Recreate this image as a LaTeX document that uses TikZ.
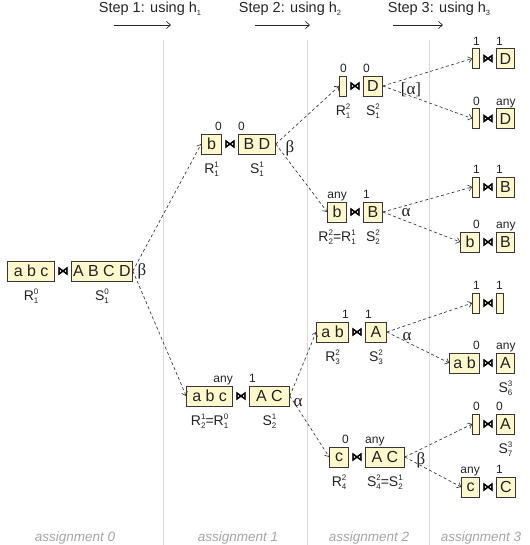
\documentclass[tikz,border=0pt]{standalone}
\usepackage{fontspec}
\setmainfont{Liberation Sans}
\newfontfamily\symfont[FakeBold=4.5]{DejaVu Sans}
\newfontfamily\grkfont{Liberation Serif}
\usetikzlibrary{arrows.meta}
\definecolor{boxfill}{RGB}{255,248,204}
\definecolor{boxline}{RGB}{55,55,55}
\definecolor{sepgray}{RGB}{218,218,218}
\definecolor{asgray}{RGB}{165,165,165}
\definecolor{inkgray}{RGB}{35,35,35}
\newcommand\lblRS[3]{#1\rlap{\raisebox{5.5pt}{\fontsize{8}{8}\selectfont #2}}\raisebox{-3pt}{\fontsize{8}{8}\selectfont #3}}
\newcommand\hsub[1]{\raisebox{-2.5pt}{\fontsize{7.5}{7.5}\selectfont #1}}
% name, bowtie x, y, R text, R width, S text, S width
\newcommand\joinrow[7]{%
 \node[bow] (#1j) at (#2,#3) {⋈};
 \node[box, minimum width=#5pt, anchor=east] (#1R) at (#2-8,#3) {#4};
 \node[box, minimum width=#7pt, anchor=west] (#1S) at (#2+8,#3) {#6};
}
\newcommand\annrow[3]{%
 \node[ann, anchor=base east] (#1ra) at ([yshift=3pt]#1R.north east) {#2};
 \node[ann, anchor=base west] (#1sa) at ([yshift=3pt]#1S.north west) {#3};
}
\tikzset{
 box/.style={draw=boxline, fill=boxfill, line width=0.8pt, minimum height=20pt, inner xsep=1pt, inner ysep=0pt, font=\fontsize{16}{16}\selectfont, text=inkgray},
 ann/.style={font=\fontsize{12}{12}\selectfont, inner sep=0pt, text=inkgray},
 lbl/.style={font=\fontsize{14}{14}\selectfont, inner sep=0pt, text=inkgray},
 bow/.style={font=\symfont\fontsize{11}{11}\selectfont, inner sep=0pt, text=black},
 dar/.style={dash pattern=on 3pt off 2.5pt, -{Straight Barb[length=3.5pt,width=6pt]}, line width=0.65pt, draw=black!80},
 elbl/.style={font=\grkfont\fontsize{17}{17}\selectfont, text=inkgray, inner sep=0pt},
 sepline/.style={draw=sepgray, line width=0.8pt},
 hdr/.style={font=\fontsize{14.5}{14.5}\selectfont, inner sep=0pt, text=black!85},
 harrow/.style={-{Straight Barb[length=4pt,width=7pt]}, line width=0.7pt, draw=black!85},
 asg/.style={font=\itshape\fontsize{13.5}{13.5}\selectfont, text=asgray, inner sep=0pt},
}
\begin{document}
\begin{tikzpicture}[x=1pt,y=-1pt]
\useasboundingbox (0,0) rectangle (529,545);
% separators
\draw[sepline] (163,40) -- (163,545);
\draw[sepline] (307,40) -- (307,545);
\draw[sepline] (429,40) -- (429,545);
% header
\node[hdr] (st1) at (150,9) {Step 1: using h\hsub{1}};
\node[hdr] (st2) at (290,9) {Step 2: using h\hsub{2}};
\node[hdr] (st3) at (439,9) {Step 3: using h\hsub{3}};
\coordinate (a1s) at (114,25); \coordinate (a1e) at (171,25);
\coordinate (a2s) at (255,25); \coordinate (a2e) at (310,25);
\coordinate (a3s) at (393,25); \coordinate (a3e) at (443,25);
\draw[harrow] (a1s) -- (a1e);
\draw[harrow] (a2s) -- (a2e);
\draw[harrow] (a3s) -- (a3e);
% footer
\node[asg] (as0) at (75,538) {assignment 0};
\node[asg] (as1) at (238,538) {assignment 1};
\node[asg] (as2) at (369,538) {assignment 2};
\node[asg] (as3) at (481,538) {assignment 3};
% root
\joinrow{root}{63}{271}{a b c}{47}{A B C D}{61}
% level 1
\joinrow{La}{230}{144}{b}{20}{B D}{37}
\annrow{La}{0}{0}
\joinrow{Lb}{241}{396}{a b c}{46}{A C}{40}
\annrow{Lb}{any}{1}
% level 2
\joinrow{Ma}{355}{86}{}{7}{D}{19}
\annrow{Ma}{0}{0}
\joinrow{Mb}{355}{212}{b}{19}{B}{19}
\annrow{Mb}{any}{1}
\joinrow{Mc}{357}{332}{a b}{32}{A}{21}
\annrow{Mc}{1}{1}
\joinrow{Md}{357}{457}{c}{19}{A C}{39}
\annrow{Md}{0}{any}
% level 3
\joinrow{Na}{488}{58.5}{}{7}{D}{18}
\annrow{Na}{1}{1}
\joinrow{Nb}{488}{118.5}{}{7}{D}{18}
\annrow{Nb}{0}{any}
\joinrow{Nc}{488}{187}{}{7}{B}{18}
\annrow{Nc}{1}{1}
\joinrow{Nd}{488}{242}{b}{19}{B}{18}
\annrow{Nd}{0}{any}
\joinrow{Ne}{488}{303}{}{7}{}{7}
\annrow{Ne}{1}{1}
\joinrow{Nf}{488}{363}{a b}{30}{A}{18}
\annrow{Nf}{0}{any}
\joinrow{Ng}{488}{424}{}{7}{A}{18}
\annrow{Ng}{0}{0}
\joinrow{Nh}{488}{487}{c}{18}{C}{19}
\annrow{Nh}{any}{1}
% labels below
\node[lbl, anchor=base] (rootRl) at ([yshift=-19pt]rootR.south) {\lblRS{R}{0}{1}};
\node[lbl, anchor=base] (rootSl) at ([yshift=-19pt]rootS.south) {\lblRS{S}{0}{1}};
\node[lbl, anchor=base] (LaRl) at ([yshift=-19pt]LaR.south) {\lblRS{R}{1}{1}};
\node[lbl, anchor=base] (LaSl) at ([yshift=-19pt]LaS.south) {\lblRS{S}{1}{1}};
\node[lbl, anchor=base] (LbRl) at ([yshift=-19pt]LbR.south) {\lblRS{R}{1}{2}=\lblRS{R}{0}{1}};
\node[lbl, anchor=base] (LbSl) at ([yshift=-19pt]LbS.south) {\lblRS{S}{1}{2}};
\node[lbl, anchor=base] (MaRl) at ([yshift=-19pt]MaR.south) {\lblRS{R}{2}{1}};
\node[lbl, anchor=base] (MaSl) at ([yshift=-19pt]MaS.south) {\lblRS{S}{2}{1}};
\node[lbl, anchor=base] (MbRl) at ([yshift=-19pt]MbR.south) {\lblRS{R}{2}{2}=\lblRS{R}{1}{1}};
\node[lbl, anchor=base] (MbSl) at ([yshift=-19pt]MbS.south) {\lblRS{S}{2}{2}};
\node[lbl, anchor=base] (McRl) at ([yshift=-19pt]McR.south) {\lblRS{R}{2}{3}};
\node[lbl, anchor=base] (McSl) at ([yshift=-19pt]McS.south) {\lblRS{S}{2}{3}};
\node[lbl, anchor=base] (MdRl) at ([yshift=-19pt]MdR.south) {\lblRS{R}{2}{4}};
\node[lbl, anchor=base] (MdSl) at ([yshift=-19pt]MdS.south) {\lblRS{S}{2}{4}=\lblRS{S}{1}{2}};
\node[lbl, anchor=base] (NfSl) at ([yshift=-19pt]NfS.south) {\lblRS{S}{3}{6}};
\node[lbl, anchor=base] (NgSl) at ([yshift=-19pt]NgS.south) {\lblRS{S}{3}{7}};
% edge labels
\node[elbl] (rootel) at (142,271) {β};
\node[elbl] (Lael) at (290,148) {β};
\node[elbl] (Lbel) at (298,403) {α};
\node[elbl] (Mael) at (411,90) {[α]};
\node[elbl] (Mbel) at (406,213) {α};
\node[elbl] (Mcel) at (407,337) {α};
\node[elbl] (Mdel) at (421,460) {β};
% connectors
\draw[dar] (rootS.east) -- (LaR.west);
\draw[dar] (rootS.east) -- (LbR.west);
\draw[dar] (LaS.east) -- (MaR.west);
\draw[dar] (LaS.east) -- (MbR.west);
\draw[dar] (LbS.east) -- (McR.west);
\draw[dar] (LbS.east) -- (MdR.west);
\draw[dar] (MaS.east) -- (NaR.west);
\draw[dar] (MaS.east) -- (NbR.west);
\draw[dar] (MbS.east) -- (NcR.west);
\draw[dar] (MbS.east) -- (NdR.west);
\draw[dar] (McS.east) -- (NeR.west);
\draw[dar] (McS.east) -- (NfR.west);
\draw[dar] (MdS.east) -- (NgR.west);
\draw[dar] (MdS.east) -- (NhR.west);
\end{tikzpicture}
\end{document}
